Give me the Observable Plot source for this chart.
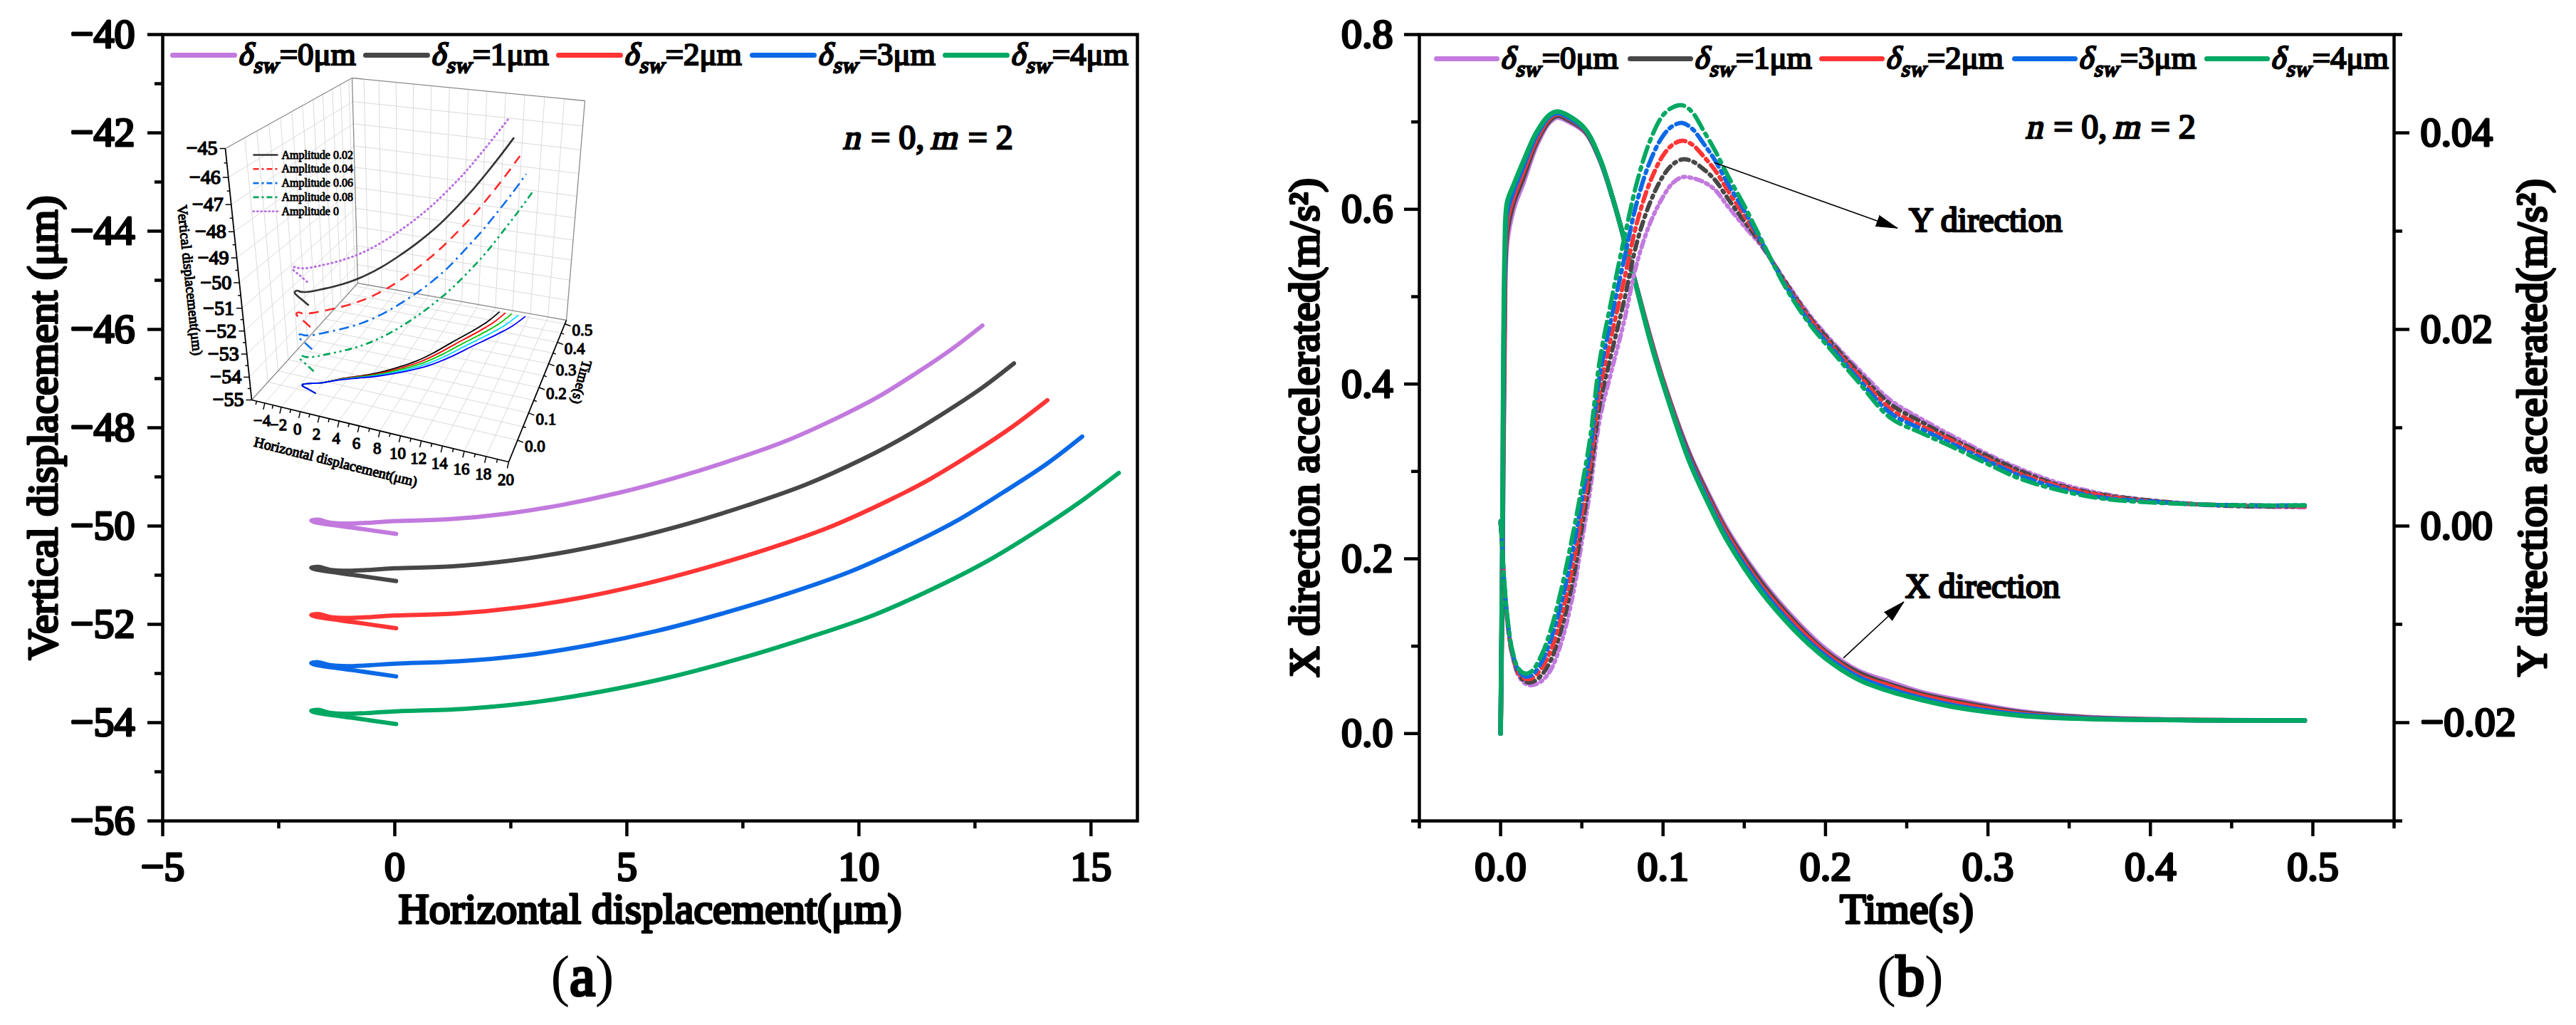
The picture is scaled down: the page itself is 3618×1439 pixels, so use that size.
<!DOCTYPE html>
<html><head><meta charset="utf-8">
<script src="https://cdn.jsdelivr.net/npm/d3@7"></script>
<script src="https://cdn.jsdelivr.net/npm/@observablehq/plot@0.6"></script>
<style>
html,body{margin:0;padding:0;background:#fff;}
#root{position:relative;width:3618px;height:1439px;background:#fff;overflow:hidden;font-family:'Liberation Serif',serif;}
#root svg{position:absolute;top:0;max-width:none;}
#root svg text{stroke:#000;stroke-width:0.055em;paint-order:stroke;stroke-linejoin:round;}
#root svg g[aria-label="regular"] text{stroke:none;}
.abs{position:absolute;white-space:nowrap;line-height:1;color:#000;}
.fb{-webkit-text-stroke:0.05em #000;}
.it{display:inline-block;transform:skewX(-13deg);}
.leg{font-size:45px;}
.leg .sub{font-size:31px;position:relative;top:11px;}
.ann{font-size:48px;}
.cap{font-size:80px;}
</style></head><body><div id="root"></div>
<script>
const SERIF = "'Liberation Serif',serif";

// ---------------- Panel (a) data ----------------
const deltaSW = ["0", "1", "2", "3", "4"];
const seriesColors = ["#c27ade", "#474747", "#ff3535", "#0b69e6", "#00a862"];
const h0 = [0.03,-0.85,-1.72,-1.8,-1.65,-1.4,-1.0,-0.5,0,1.2,2.4,3.6,4.8,6.0,7.2,8.4,9.6,10.4,11.2,12.0,12.66];
const v0 = [-50.16,-50.04,-49.92,-49.89,-49.87,-49.93,-49.95,-49.93,-49.9,-49.86,-49.75,-49.57,-49.33,-49.03,-48.68,-48.28,-47.77,-47.38,-46.91,-46.4,-45.92];
const h1 = [0.03,-0.85,-1.72,-1.8,-1.65,-1.4,-1.0,-0.5,0,1.26,2.53,3.79,5.06,6.32,7.59,8.85,10.12,10.96,11.8,12.65,13.34];
const v1 = [-51.12,-51.0,-50.88,-50.85,-50.83,-50.89,-50.91,-50.89,-50.86,-50.82,-50.70,-50.51,-50.26,-49.95,-49.58,-49.16,-48.62,-48.2,-47.72,-47.19,-46.69];
const h2 = [0.03,-0.85,-1.72,-1.8,-1.65,-1.4,-1.0,-0.5,0,1.33,2.66,4.0,5.33,6.66,7.99,9.32,10.66,11.54,12.43,13.32,14.06];
const v2 = [-52.08,-51.96,-51.84,-51.81,-51.79,-51.85,-51.87,-51.85,-51.82,-51.78,-51.66,-51.46,-51.19,-50.86,-50.48,-50.04,-49.47,-49.04,-48.53,-47.97,-47.44];
const h3 = [0.03,-0.85,-1.72,-1.8,-1.65,-1.4,-1.0,-0.5,0,1.4,2.81,4.21,5.62,7.02,8.42,9.83,11.23,12.17,13.1,14.04,14.81];
const v3 = [-53.06,-52.94,-52.82,-52.79,-52.77,-52.83,-52.85,-52.83,-52.8,-52.75,-52.63,-52.42,-52.14,-51.79,-51.39,-50.92,-50.32,-49.86,-49.32,-48.74,-48.18];
const h4 = [0.03,-0.85,-1.72,-1.8,-1.65,-1.4,-1.0,-0.5,0,1.48,2.96,4.44,5.91,7.39,8.87,10.35,11.83,12.81,13.8,14.78,15.6];
const v4 = [-54.03,-53.91,-53.79,-53.76,-53.74,-53.8,-53.82,-53.8,-53.77,-53.72,-53.59,-53.37,-53.08,-52.71,-52.28,-51.8,-51.17,-50.69,-50.12,-49.5,-48.92];
// time stamps of the trajectory points (inset, 3-D view)
const insetTime = [0,0.008,0.016,0.02,0.024,0.028,0.033,0.038,0.045,0.07,0.09,0.11,0.135,0.165,0.2,0.25,0.31,0.35,0.39,0.44,0.5];
const insetAmplitudes = ["0", "0.02", "0.04", "0.06", "0.08"];
const insetLegendOrder = [1, 2, 3, 4, 0];
const insetColors = ["#b86ee0", "#333333", "#ff2a2a", "#0f6ee8", "#00a65a"];
const insetDash = ["1,5", null, "14,9", "14,6,3,6", "10,5,3,5,3,5"];
const floorColors = ["#000000", "#ff0000", "#00c800", "#00d8ff", "#0000ff"];

// axis ticks panel (a)
const aXTicks = [-5, 0, 5, 10, 15];
const aXMinor = [-2.5, 2.5, 7.5, 12.5];
const aYTicks = [-40, -42, -44, -46, -48, -50, -52, -54, -56];
const aYMinor = [-41, -43, -45, -47, -49, -51, -53, -55];
// inset ticks
const insetVTicks = [-55,-54,-53,-52,-51,-50,-49,-48,-47,-46,-45];
const insetHTicks = [-4,-2,0,2,4,6,8,10,12,14,16,18,20];
const insetTTicks = [0, 0.1, 0.2, 0.3, 0.4, 0.5];

// ---------------- Panel (b) data ----------------
const tX = [0,0.001,0.0025,0.004,0.008,0.014,0.022,0.03,0.035,0.042,0.052,0.061,0.071,0.081,0.092,0.1,0.116,0.13,0.14,0.16,0.18,0.2,0.22,0.24,0.26,0.28,0.32,0.36,0.41,0.45,0.495];
const xAcc0 = [0,0.15,0.45,0.561,0.6,0.63,0.672,0.699,0.705,0.7,0.688,0.657,0.6,0.53,0.455,0.405,0.322,0.267,0.232,0.177,0.133,0.097,0.072,0.059,0.047,0.039,0.0255,0.019,0.016,0.0153,0.015];
const xAcc1 = [0,0.162,0.475,0.573,0.607,0.636,0.676,0.701,0.707,0.702,0.689,0.657,0.6,0.53,0.454,0.404,0.32,0.264,0.229,0.174,0.13,0.094,0.07,0.056,0.045,0.037,0.0243,0.0185,0.0159,0.0152,0.015];
const xAcc2 = [0,0.175,0.5,0.585,0.614,0.643,0.68,0.704,0.709,0.704,0.69,0.658,0.6,0.53,0.453,0.403,0.317,0.261,0.226,0.17,0.127,0.092,0.067,0.054,0.043,0.035,0.023,0.0179,0.0158,0.0152,0.015];
const xAcc3 = [0,0.188,0.525,0.596,0.621,0.649,0.684,0.706,0.71,0.705,0.691,0.658,0.6,0.53,0.451,0.401,0.315,0.258,0.222,0.167,0.123,0.089,0.065,0.051,0.04,0.032,0.0218,0.0174,0.0156,0.0151,0.015];
const xAcc4 = [0,0.2,0.55,0.608,0.628,0.655,0.688,0.708,0.712,0.707,0.692,0.659,0.6,0.53,0.45,0.4,0.312,0.255,0.219,0.163,0.12,0.086,0.062,0.048,0.038,0.03,0.0205,0.0168,0.0155,0.015,0.015];
const tY = [0,0.001,0.002,0.004,0.007,0.011,0.015,0.019,0.025,0.031,0.038,0.045,0.05,0.055,0.061,0.068,0.076,0.084,0.092,0.1,0.106,0.112,0.118,0.125,0.132,0.14,0.15,0.16,0.175,0.19,0.205,0.22,0.24,0.26,0.28,0.3,0.32,0.345,0.37,0.4,0.43,0.46,0.495];
const yAcc0 = [0.0003,-0.002,-0.0055,-0.0095,-0.013,-0.0152,-0.016,-0.0162,-0.0158,-0.0146,-0.0115,-0.0066,-0.0016,0.0035,0.0108,0.0156,0.0208,0.0268,0.0308,0.0335,0.0349,0.0355,0.0354,0.035,0.0342,0.0325,0.0305,0.0286,0.025,0.0215,0.0186,0.016,0.0128,0.0108,0.009,0.0073,0.0058,0.0043,0.0033,0.0026,0.0022,0.002,0.0019];
const yAcc1 = [0.0004,-0.002,-0.0054,-0.0094,-0.0129,-0.015,-0.0158,-0.0159,-0.0152,-0.0136,-0.0101,-0.0051,-0.0002,0.0048,0.0123,0.0174,0.0229,0.0289,0.0329,0.0356,0.0368,0.0373,0.0371,0.0363,0.0352,0.0333,0.031,0.0288,0.0249,0.0213,0.0184,0.0157,0.0124,0.0105,0.0087,0.0071,0.0056,0.0041,0.0032,0.0026,0.0022,0.002,0.002];
const yAcc2 = [0.0004,-0.002,-0.0053,-0.0093,-0.0128,-0.0149,-0.0155,-0.0155,-0.0145,-0.0126,-0.0088,-0.0035,0.0012,0.0062,0.0138,0.0192,0.025,0.0309,0.035,0.0377,0.0388,0.0392,0.0388,0.0376,0.0362,0.0341,0.0316,0.029,0.0247,0.0211,0.0181,0.0154,0.0119,0.0101,0.0085,0.0068,0.0053,0.004,0.0031,0.0025,0.0022,0.0021,0.002];
const yAcc3 = [0.0005,-0.002,-0.0051,-0.0091,-0.0126,-0.0147,-0.0153,-0.0152,-0.0139,-0.0115,-0.0074,-0.002,0.0026,0.0075,0.0153,0.021,0.0271,0.033,0.0371,0.0397,0.0407,0.041,0.0404,0.0389,0.0372,0.0348,0.0321,0.0291,0.0246,0.0208,0.0179,0.015,0.0115,0.0098,0.0082,0.0066,0.0051,0.0038,0.0029,0.0025,0.0022,0.0021,0.0021];
const yAcc4 = [0.0005,-0.002,-0.005,-0.009,-0.0125,-0.0145,-0.015,-0.0148,-0.0132,-0.0105,-0.006,-0.0004,0.004,0.0088,0.0168,0.0228,0.0292,0.035,0.0392,0.0418,0.0426,0.0428,0.0421,0.0402,0.0382,0.0356,0.0326,0.0293,0.0244,0.0206,0.0176,0.0147,0.011,0.0094,0.0079,0.0063,0.0048,0.0036,0.0028,0.0024,0.0022,0.0021,0.0021];
const yDash = ["10,6,3,6,3,6", "12,7,3,7", "14,7,4,7", "18,7,4,7", "22,8,4,8"];

const bXTicks = [0, 0.1, 0.2, 0.3, 0.4, 0.5];
const bXMinor = [-0.05, 0.05, 0.15, 0.25, 0.35, 0.45, 0.55];
const bYTicks = [0, 0.2, 0.4, 0.6, 0.8];
const bYMinor = [-0.1, 0.1, 0.3, 0.5, 0.7];
const bY2Ticks = [-0.02, 0, 0.02, 0.04];
const bY2Minor = [-0.03, -0.01, 0.01, 0.03, 0.05];

const annotationArrows = [
  {x1: 0.1316, y1: 0.6534, x2: 0.2443, y2: 0.5784, rot: 110},
  {x1: 0.211, y1: 0.0864, x2: 0.2482, y2: 0.1507, rot: 47}
];
const annotationTexts = [
  {label: "Y direction", x: 0.2513, y: 0.587},
  {label: "X direction", x: 0.249, y: 0.168}
];

// ---------------- helpers ----------------
const minus = d => (d < 0 ? "\u2212" : "") + Math.abs(d);
const hArrs = [h0, h1, h2, h3, h4], vArrs = [v0, v1, v2, v3, v4];
const xAccs = [xAcc0, xAcc1, xAcc2, xAcc3, xAcc4], yAccs = [yAcc0, yAcc1, yAcc2, yAcc3, yAcc4];
const Y2_LO = -0.03, Y2_HI = 0.05, Y_LO = -0.1, Y_HI = 0.8;
const y2ToY = v => Y_LO + (v - Y2_LO) * (Y_HI - Y_LO) / (Y2_HI - Y2_LO);
const yToY2 = v => Y2_LO + (v - Y_LO) * (Y2_HI - Y2_LO) / (Y_HI - Y_LO);
const fmtY2 = d => { const r = Math.round(yToY2(d) * 100) / 100; return (r < 0 ? "\u2212" : "") + Math.abs(r).toFixed(2); };
const baseStyle = {fontFamily: SERIF, fontWeight: "normal", fontSize: "57px", background: "transparent", maxWidth: "none"};

const root = document.getElementById("root");

// ---------------- Panel (a) ----------------
const trajectories = hArrs.map((H, k) => H.map((h, i) => ({h, v: vArrs[k][i]})));
const leftPlot = Plot.plot({
  width: 1800, height: 1439,
  marginLeft: 228, marginRight: 203, marginTop: 48, marginBottom: 287,
  x: {domain: [-5, 16]},
  y: {domain: [-56, -40]},
  style: baseStyle,
  marks: [
    ...trajectories.map((d, k) => Plot.line(d, {x: "h", y: "v", stroke: seriesColors[k], strokeWidth: 6, curve: "catmull-rom", strokeLinecap: "round", strokeLinejoin: "round"})),
    Plot.frame({stroke: "black", strokeWidth: 4.5}),
    Plot.axisX(aXTicks, {tickSize: 22, tickPadding: 20, strokeWidth: 4.5, label: null, tickFormat: minus, fontSize: 58}),
    Plot.axisX(aXMinor, {tickSize: 11, strokeWidth: 4.5, text: null, label: null}),
    Plot.axisY(aYTicks, {tickSize: 21, tickPadding: 18, strokeWidth: 4.5, label: null, tickFormat: minus, fontSize: 58}),
    Plot.axisY(aYMinor, {tickSize: 11, strokeWidth: 4.5, text: null, label: null}),
    Plot.text(["Horizontal displacement(\u03bcm)"], {frameAnchor: "bottom", dy: 124, textAnchor: "middle", lineAnchor: "middle", fontSize: 60}),
    Plot.text(["Vertical displacement (\u03bcm)"], {frameAnchor: "left", dx: -168, rotate: -90, textAnchor: "middle", lineAnchor: "middle", fontSize: 60})
  ]
});
leftPlot.style.left = "0px";
root.appendChild(leftPlot);

// ---------------- Inset (3-D view, projected) ----------------
const HF = [[-5.6,0],[-4,.051],[-2,.115],[0,.189],[2,.263],[4,.34],[6,.418],[8,.499],[10,.579],[12,.66],[14,.742],[16,.827],[18,.912],[20,1]];
const VF = [[-55,0],[-54,.0907],[-53,.1825],[-52,.2742],[-51,.3649],[-50,.4662],[-49,.5651],[-48,.669],[-47,.777],[-46,.8851],[-45,1]];
const TF = [[-0.08,0],[0,.153],[0.1,.345],[0.2,.525],[0.3,.693],[0.4,.844],[0.5,.974],[0.515,1]];
const BOX = {c000:[353,561], c100:[714,648], c010:[316,208], c110:[711,270], c001:[502,397], c101:[795,449], c011:[494,109], c111:[821,141]};
const H0 = -5.6, H1 = 20, V0 = -55, V1 = -45, T0 = -0.08, T1 = 0.515;
function interp(tbl, val) {
  let i = 1;
  while (i < tbl.length - 1 && val > tbl[i][0]) i++;
  const [a, fa] = tbl[i - 1], [b, fb] = tbl[i];
  return fa + (val - a) / (b - a) * (fb - fa);
}
const L = (p, q, s) => [p[0] + (q[0] - p[0]) * s, p[1] + (q[1] - p[1]) * s];
function project(h, v, t) {
  const f = interp(HF, h), u = interp(VF, v), g = interp(TF, t);
  const p00 = L(BOX.c000, BOX.c100, f), p10 = L(BOX.c010, BOX.c110, f);
  const p01 = L(BOX.c001, BOX.c101, f), p11 = L(BOX.c011, BOX.c111, f);
  return L(L(p00, p10, u), L(p01, p11, u), g);
}
const seg = (a, b) => ({x1: a[0], y1: a[1], x2: b[0], y2: b[1]});
const gridV = d3.range(-54, -45.5, 1), gridH = d3.range(-4, 19, 2), gridT = d3.range(0, 0.501, 0.05);
const gridSegs = [];
for (const v of gridV) { gridSegs.push(seg(project(H0, v, T1), project(H1, v, T1))); gridSegs.push(seg(project(H0, v, T0), project(H0, v, T1))); }
for (const h of gridH) { gridSegs.push(seg(project(h, V0, T1), project(h, V1, T1))); gridSegs.push(seg(project(h, V0, T0), project(h, V0, T1))); }
for (const t of gridT) { gridSegs.push(seg(project(H0, V0, t), project(H0, V1, t))); gridSegs.push(seg(project(H0, V0, t), project(H1, V0, t))); }
const edgeSegs = [
  seg(project(H0, V1, T0), project(H0, V1, T1)), seg(project(H0, V1, T1), project(H1, V1, T1)),
  seg(project(H1, V0, T1), project(H1, V1, T1)), seg(project(H0, V0, T1), project(H0, V1, T1)),
  seg(project(H0, V0, T1), project(H1, V0, T1)), seg(project(H0, V0, T0), project(H0, V0, T1))
];
const axisSegs = [
  seg(project(H0, V0, T0), project(H0, V1, T0)), seg(project(H0, V0, T0), project(H1, V0, T0)),
  seg(project(H1, V0, T0), project(H1, V0, T1))
];
const tickSegs = [];
for (const v of d3.range(-55, -44.9, 0.5)) { const p = project(H0, v, T0); const len = Number.isInteger(v) ? 8 : 4; tickSegs.push(seg(p, [p[0] - len, p[1]])); }
for (const h of d3.range(-5, 20.1, 1)) { const p = project(h, V0, T0); const len = h % 2 === 0 ? 9 : 5; tickSegs.push(seg(p, [p[0] - 0.23 * len, p[1] + len])); }
for (const t of d3.range(0, 0.501, 0.05)) { const p = project(H1, V0, t); const len = Math.round(t * 100) % 10 === 0 ? 8 : 4; tickSegs.push(seg(p, [p[0] + len, p[1] + 0.38 * len])); }
const vLabels = insetVTicks.map(v => { const p = project(H0, v, T0); return {x: p[0], y: p[1], s: minus(v)}; });
const hLabels = insetHTicks.map(h => { const p = project(h, V0, T0); return {x: p[0], y: p[1], s: minus(h)}; });
const tLabels = insetTTicks.map(t => { const p = project(H1, V0, t); return {x: p[0], y: p[1], s: t.toFixed(1)}; });
const upperCurves = hArrs.map((H, k) => H.map((h, i) => { const p = project(h, vArrs[k][i], insetTime[i]); return {x: p[0], y: p[1]}; }));
const floorCurves = hArrs.map((H) => H.map((h, i) => { const p = project(h, V0, insetTime[i]); return {x: p[0], y: p[1]}; }));
const insetLegendRows = insetLegendOrder.map((k, j) => ({k, y: 217 + j * 19.8, label: "Amplitude " + insetAmplitudes[k]}));
const lk = {x1: "x1", y1: "y1", x2: "x2", y2: "y2"};
const insetPlot = Plot.plot({
  width: 1800, height: 1439, margin: 0,
  x: {domain: [0, 1800], range: [0, 1800], axis: null},
  y: {domain: [0, 1439], range: [0, 1439], axis: null},
  style: {...baseStyle, fontSize: "22px"},
  marks: [
    Plot.link(gridSegs, {...lk, stroke: "#dadada", strokeWidth: 1}),
    Plot.link(edgeSegs, {...lk, stroke: "#8a8a8a", strokeWidth: 1.3}),
    ...floorCurves.map((d, k) => Plot.line(d, {x: "x", y: "y", stroke: floorColors[k], strokeWidth: 1.8, curve: "catmull-rom"})),
    ...upperCurves.map((d, k) => Plot.line(d, {x: "x", y: "y", stroke: insetColors[k], strokeWidth: k === 0 ? 3 : 2.6, strokeDasharray: insetDash[k], strokeLinecap: k === 0 ? "round" : "butt", curve: "catmull-rom"})),
    Plot.link(axisSegs, {...lk, stroke: "#000", strokeWidth: 1.8}),
    Plot.link(tickSegs, {...lk, stroke: "#000", strokeWidth: 1.5}),
    Plot.text(vLabels, {x: "x", y: "y", text: "s", dx: -11, textAnchor: "end", lineAnchor: "middle", fontSize: 28}),
    Plot.text(hLabels, {x: "x", y: "y", text: "s", dx: -4, dy: 25, textAnchor: "middle", lineAnchor: "middle", fontSize: 23}),
    Plot.text(tLabels, {x: "x", y: "y", text: "s", dx: 10, dy: 9, textAnchor: "start", lineAnchor: "middle", fontSize: 23}),
    Plot.text([{x: 266, y: 393, s: "Vertical displacement(\u03bcm)"}], {x: "x", y: "y", text: "s", rotate: 84, fontSize: 20}),
    Plot.text([{x: 471, y: 648, s: "Horizontal displacement(\u03bcm)"}], {x: "x", y: "y", text: "s", rotate: 14, fontSize: 20}),
    Plot.text([{x: 816, y: 536, s: "Time(s)"}], {x: "x", y: "y", text: "s", rotate: 105, fontSize: 20}),
    ...insetLegendRows.map(r => Plot.link([r], {x1: () => 355, x2: () => 390, y1: "y", y2: "y", stroke: insetColors[r.k], strokeWidth: 2.6, strokeDasharray: r.k === 0 ? "1.5,4" : insetDash[r.k] ? "8,4,3,4" : null, strokeLinecap: r.k === 0 ? "round" : "butt"})),
    Plot.text(insetLegendRows, {x: () => 395, y: "y", text: "label", textAnchor: "start", lineAnchor: "middle", fontSize: 16})
  ]
});
insetPlot.style.left = "0px";
root.appendChild(insetPlot);

// ---------------- Panel (b) ----------------
const xSeries = xAccs.map(A => A.map((a, i) => ({t: tX[i], a})));
const ySeries = yAccs.map(A => A.map((a, i) => ({t: tY[i], a: y2ToY(a)})));
const rightPlot = Plot.plot({
  width: 1818, height: 1439,
  marginLeft: 193, marginRight: 256, marginTop: 48, marginBottom: 287,
  x: {domain: [-0.05, 0.55]},
  y: {domain: [Y_LO, Y_HI]},
  style: baseStyle,
  marks: [
    ...xSeries.map((d, k) => Plot.line(d, {x: "t", y: "a", stroke: seriesColors[k], strokeWidth: 6.5, curve: "catmull-rom", strokeLinejoin: "round"})),
    ...ySeries.map((d, k) => Plot.line(d, {x: "t", y: "a", stroke: seriesColors[k], strokeWidth: 6, strokeDasharray: yDash[k], curve: "catmull-rom"})),
    Plot.link(annotationArrows, {x1: "x1", y1: "y1", x2: "x2", y2: "y2", stroke: "black", strokeWidth: 1.6}),
    Plot.vector(annotationArrows, {x: "x2", y: "y2", rotate: "rot", length: 30, r: 8, shape: "spike", anchor: "end", fill: "black", stroke: "black", strokeWidth: 1}),
    Plot.text(annotationTexts, {x: "x", y: "y", text: "label", textAnchor: "start", lineAnchor: "middle", fontSize: 48, ariaLabel: "regular"}),
    Plot.frame({stroke: "black", strokeWidth: 4.5}),
    Plot.axisX(bXTicks, {tickSize: 22, tickPadding: 20, strokeWidth: 4.5, label: null, tickFormat: d3.format(".1f"), fontSize: 58}),
    Plot.axisX(bXMinor, {tickSize: 11, strokeWidth: 4.5, text: null, label: null}),
    Plot.axisY(bYTicks, {tickSize: 21, tickPadding: 16, strokeWidth: 4.5, label: null, tickFormat: d3.format(".1f"), fontSize: 58}),
    Plot.axisY(bYMinor, {tickSize: 11, strokeWidth: 4.5, text: null, label: null}),
    Plot.axisY(bY2Ticks.map(y2ToY), {anchor: "right", tickSize: 21, tickPadding: 16, strokeWidth: 4.5, label: null, tickFormat: fmtY2, fontSize: 58}),
    Plot.axisY(bY2Minor.map(y2ToY), {anchor: "right", tickSize: 11, strokeWidth: 4.5, text: null, label: null}),
    Plot.text(["Time(s)"], {frameAnchor: "bottom", dy: 124, textAnchor: "middle", lineAnchor: "middle", fontSize: 60}),
    Plot.text(["X direction accelerated(m/s\u00b2)"], {frameAnchor: "left", dx: -161, rotate: -90, textAnchor: "middle", lineAnchor: "middle", fontSize: 60}),
    Plot.text(["Y direction accelerated(m/s\u00b2)"], {frameAnchor: "right", dx: 194, rotate: -90, textAnchor: "middle", lineAnchor: "middle", fontSize: 60})
  ]
});
rightPlot.style.left = "1800px";
root.appendChild(rightPlot);

// ---------------- HTML legends & labels ----------------
function addDiv(cls, left, top, html, extra) {
  const d = document.createElement("div");
  d.className = "abs " + cls;
  d.style.left = left + "px"; d.style.top = top + "px";
  if (extra) Object.assign(d.style, extra);
  d.innerHTML = html;
  root.appendChild(d);
  return d;
}
const legendLeftX = [239, 510, 781, 1053, 1324];
const legendRightX = [2014, 2286, 2555, 2826, 3096];
function legend(xs, yc, len) {
  xs.forEach((x, k) => {
    addDiv("", x, yc - 3.5, "", {width: len + "px", height: "7px", background: seriesColors[k], borderRadius: "3.5px"});
    addDiv("leg fb", x + len + 4, yc - 23, `<span class="it">\u03b4</span><span class="sub it">sw</span>=${deltaSW[k]}\u03bcm`);
  });
}
legend(legendLeftX, 77, 94);
legend(legendRightX, 82, 92);
addDiv("ann fb", 1305, 169, "<span class=\"it\">n</span> = 0, <span class=\"it\">m</span> = 2", {transform: "translateX(-50%)"});
addDiv("ann fb", 2966, 154, "<span class=\"it\">n</span> = 0, <span class=\"it\">m</span> = 2", {transform: "translateX(-50%)"});
addDiv("cap", 818, 1330, "(<span class=\"fb\">a</span>)", {transform: "translateX(-50%)"});
addDiv("cap", 2683, 1330, "(<span class=\"fb\">b</span>)", {transform: "translateX(-50%)"});
</script></body></html>
